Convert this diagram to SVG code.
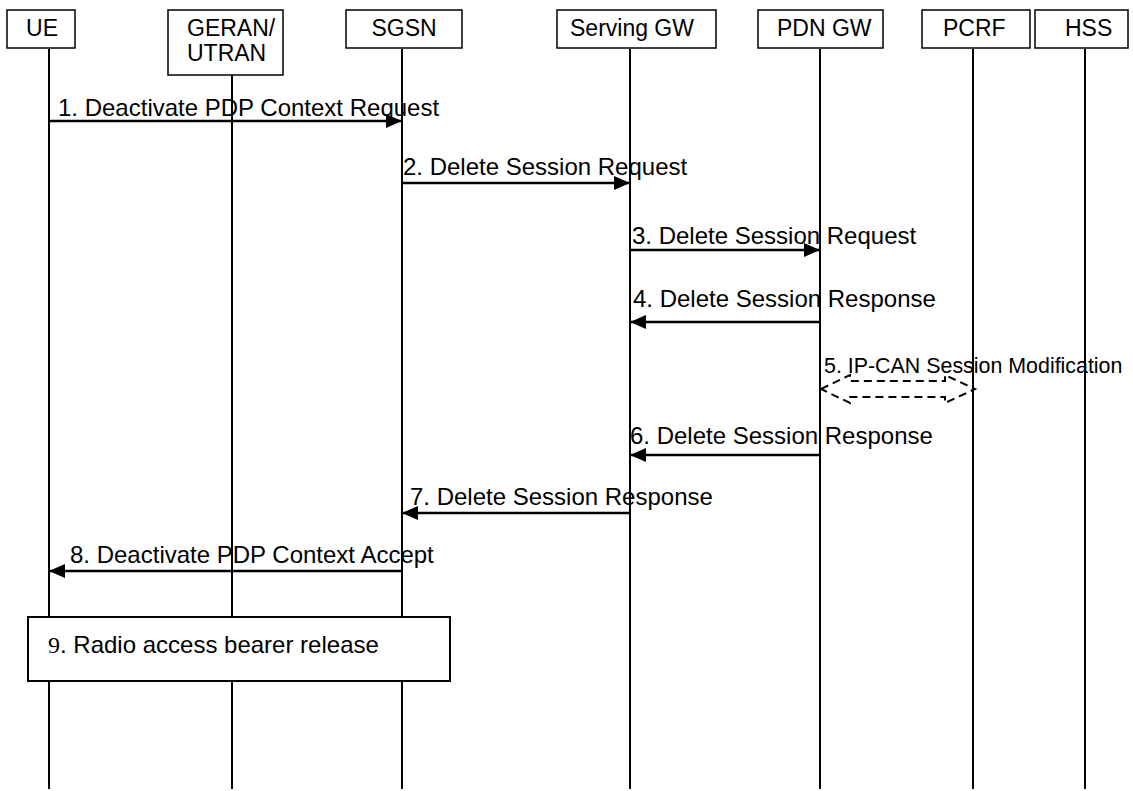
<svg xmlns="http://www.w3.org/2000/svg" width="1133" height="791" viewBox="0 0 1133 791">
<style>
.box{fill:#fff;stroke:#000;stroke-width:1.5}
.life{stroke:#000;stroke-width:2}
.msg{stroke:#000;stroke-width:2.5;fill:none}
.hd{font-family:"Liberation Sans",Arial,sans-serif;font-size:23px;fill:#000}
.lb{font-family:"Liberation Sans",Arial,sans-serif;font-size:24px;fill:#000}
</style>
<defs>
<marker id="ah" markerUnits="userSpaceOnUse" markerWidth="16" markerHeight="16" viewBox="0 0 16 16" refX="16" refY="8" orient="auto">
<path d="M0,1 L16,8 L0,15 Z" fill="#000"/>
</marker>
</defs>
<g id="lifelines">
<line class="life" x1="49" y1="49" x2="49" y2="789"/>
<line class="life" x1="232" y1="75" x2="232" y2="789"/>
<line class="life" x1="402" y1="49" x2="402" y2="789"/>
<line class="life" x1="630" y1="49" x2="630" y2="789"/>
<line class="life" x1="820" y1="49" x2="820" y2="789"/>
<line class="life" x1="973" y1="49" x2="973" y2="789"/>
<line class="life" x1="1085" y1="49" x2="1085" y2="789"/>
</g>
<g id="node-ue"><rect class="box" x="7" y="10" width="68" height="38"/><text class="hd" x="42" y="36" text-anchor="middle">UE</text></g>
<g id="node-geran"><rect class="box" x="168" y="10" width="115" height="65"/><text class="hd" x="187" y="36">GERAN/</text><text class="hd" x="187" y="61">UTRAN</text></g>
<g id="node-sgsn"><rect class="box" x="346" y="10" width="116" height="38"/><text class="hd" x="404" y="36" text-anchor="middle">SGSN</text></g>
<g id="node-sgw"><rect class="box" x="557" y="10" width="159" height="38"/><text class="hd" x="570" y="36">Serving GW</text></g>
<g id="node-pgw"><rect class="box" x="758" y="10" width="125" height="38"/><text class="hd" x="777" y="36">PDN GW</text></g>
<g id="node-pcrf"><rect class="box" x="922" y="10" width="108" height="38"/><text class="hd" x="943" y="36">PCRF</text></g>
<g id="node-hss"><rect class="box" x="1035" y="10" width="93" height="38"/><text class="hd" x="1065" y="36">HSS</text></g>
<g id="node-rab"><rect class="box" x="28" y="617" width="422" height="64" style="stroke-width:2"/><text class="lb" x="48" y="653"><tspan style="font-family:'Liberation Serif','Times New Roman',serif">9</tspan>. Radio access bearer release</text></g>
<g id="connectors">
<line class="msg" x1="49" y1="121" x2="402" y2="121" marker-end="url(#ah)"/>
<line class="msg" x1="402" y1="183" x2="630" y2="183" marker-end="url(#ah)"/>
<line class="msg" x1="630" y1="250" x2="820" y2="250" marker-end="url(#ah)"/>
<line class="msg" x1="820" y1="322" x2="630" y2="322" marker-end="url(#ah)"/>
<polygon points="821,389 850,375 850,381 945,381 945,375 975,389 945,403 945,397 850,397 850,403" fill="none" stroke="#000" stroke-width="2" stroke-dasharray="8,5"/>
<line class="msg" x1="820" y1="455" x2="630" y2="455" marker-end="url(#ah)"/>
<line class="msg" x1="630" y1="513" x2="402" y2="513" marker-end="url(#ah)"/>
<line class="msg" x1="402" y1="571" x2="49" y2="571" marker-end="url(#ah)"/>
</g>
<g id="labels">
<text class="lb" x="58" y="116">1. Deactivate PDP Context Request</text>
<text class="lb" x="403" y="175">2. Delete Session Request</text>
<text class="lb" x="632" y="244">3. Delete Session Request</text>
<text class="lb" x="633" y="307">4. Delete Session Response</text>
<text class="lb" x="824" y="373" style="font-size:21.4px">5. IP-CAN Session Modification</text>
<text class="lb" x="630" y="444">6. Delete Session Response</text>
<text class="lb" x="410" y="505">7. Delete Session Response</text>
<text class="lb" x="70" y="563">8. Deactivate PDP Context Accept</text>
</g>
</svg>
